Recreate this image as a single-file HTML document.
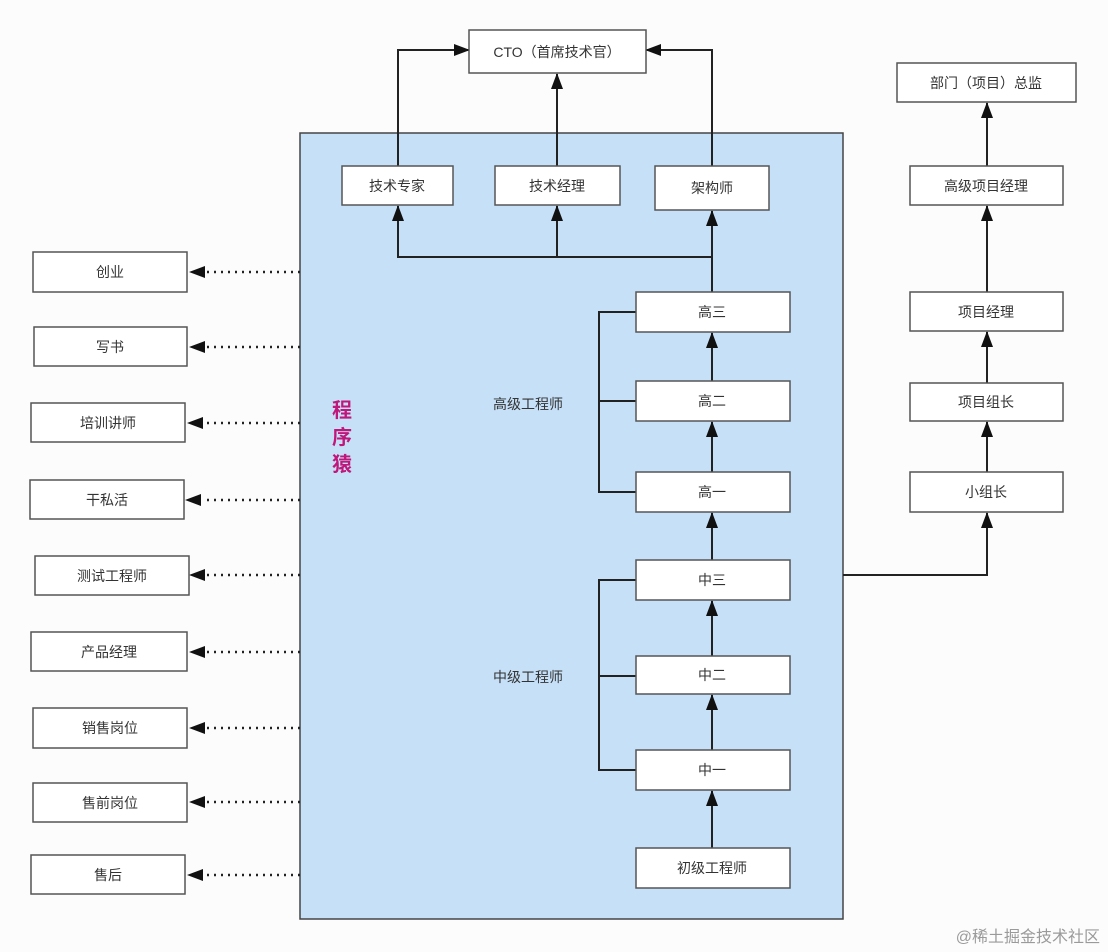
<!DOCTYPE html>
<html><head><meta charset="utf-8"><style>
html,body{margin:0;padding:0;background:#fcfcfc;}
svg{display:block;}
text{font-family:"Liberation Sans","Noto Sans CJK SC",sans-serif;fill:#333;}
</style></head><body>
<svg width="1108" height="952" viewBox="0 0 1108 952" xmlns="http://www.w3.org/2000/svg">
<defs>
<marker id="a" markerWidth="10" markerHeight="10" refX="9" refY="5" orient="auto" markerUnits="userSpaceOnUse">
<path d="M0,0 L10,5 L0,10 z" fill="#111"/></marker>
<marker id="b" markerWidth="16" markerHeight="12" refX="15" refY="6" orient="auto" markerUnits="userSpaceOnUse">
<path d="M0,0 L16,6 L0,12 z" fill="#111"/></marker>
</defs>
<rect x="300" y="133" width="543" height="786" fill="#c6e0f8" stroke="#444" stroke-width="1.5"/>
<g stroke="#222" stroke-width="2" fill="none">
<!-- to CTO -->
<path d="M398,166 V50 H469" marker-end="url(#b)"/>
<path d="M712,166 V50 H646" marker-end="url(#b)"/>
<path d="M557,166 V74" marker-end="url(#b)"/>
<!-- bottom of top row -->
<path d="M712,257 H398 V206" marker-end="url(#b)"/>
<path d="M557,257 V206" marker-end="url(#b)"/>
<path d="M712,292 V211" marker-end="url(#b)"/>
<!-- chain -->
<path d="M712,381 V333" marker-end="url(#b)"/>
<path d="M712,472 V422" marker-end="url(#b)"/>
<path d="M712,560 V513" marker-end="url(#b)"/>
<path d="M712,656 V601" marker-end="url(#b)"/>
<path d="M712,750 V695" marker-end="url(#b)"/>
<path d="M712,848 V791" marker-end="url(#b)"/>
<!-- brackets -->
<path d="M636,312 H599 V492 H636 M599,401 H636"/>
<path d="M636,580 H599 V770 H636 M599,676 H636"/>
<!-- right column -->
<path d="M843,575 H987 V513" marker-end="url(#b)"/>
<path d="M987,472 V422" marker-end="url(#b)"/>
<path d="M987,383 V332" marker-end="url(#b)"/>
<path d="M987,292 V206" marker-end="url(#b)"/>
<path d="M987,166 V103" marker-end="url(#b)"/>
</g>
<!-- dotted -->
<g stroke="#222" stroke-width="2.5" stroke-dasharray="2,5" fill="none">
<path d="M300,272 H205"/><path d="M300,347 H205"/><path d="M300,423 H205"/>
<path d="M300,500 H205"/><path d="M300,575 H205"/><path d="M300,652 H205"/>
<path d="M300,728 H205"/><path d="M300,802 H205"/><path d="M300,875 H205"/>
</g>
<g fill="#111">
<path d="M189,272 l16,-6 v12z"/><path d="M189,347 l16,-6 v12z"/><path d="M187,423 l16,-6 v12z"/>
<path d="M185,500 l16,-6 v12z"/><path d="M189,575 l16,-6 v12z"/><path d="M189,652 l16,-6 v12z"/>
<path d="M189,728 l16,-6 v12z"/><path d="M189,802 l16,-6 v12z"/><path d="M187,875 l16,-6 v12z"/>
</g>
<g fill="#fff" stroke="#555" stroke-width="1.5">
<rect x="469" y="30" width="177" height="43"/>
<rect x="342" y="166" width="111" height="39"/>
<rect x="495" y="166" width="125" height="39"/>
<rect x="655" y="166" width="114" height="44"/>
<rect x="636" y="292" width="154" height="40"/>
<rect x="636" y="381" width="154" height="40"/>
<rect x="636" y="472" width="154" height="40"/>
<rect x="636" y="560" width="154" height="40"/>
<rect x="636" y="656" width="154" height="38"/>
<rect x="636" y="750" width="154" height="40"/>
<rect x="636" y="848" width="154" height="40"/>
<rect x="897" y="63" width="179" height="39"/>
<rect x="910" y="166" width="153" height="39"/>
<rect x="910" y="292" width="153" height="39"/>
<rect x="910" y="383" width="153" height="38"/>
<rect x="910" y="472" width="153" height="40"/>
<rect x="33" y="252" width="154" height="40"/>
<rect x="34" y="327" width="153" height="39"/>
<rect x="31" y="403" width="154" height="39"/>
<rect x="30" y="480" width="154" height="39"/>
<rect x="35" y="556" width="154" height="39"/>
<rect x="31" y="632" width="156" height="39"/>
<rect x="33" y="708" width="154" height="40"/>
<rect x="33" y="783" width="154" height="39"/>
<rect x="31" y="855" width="154" height="39"/>
</g>
<g font-size="14" text-anchor="middle" dominant-baseline="central">
<text x="557" y="52">CTO（首席技术官）</text>
<text x="397" y="186">技术专家</text>
<text x="557" y="186">技术经理</text>
<text x="712" y="188">架构师</text>
<text x="712" y="312">高三</text>
<text x="712" y="401">高二</text>
<text x="712" y="492">高一</text>
<text x="712" y="580">中三</text>
<text x="712" y="675">中二</text>
<text x="712" y="770">中一</text>
<text x="712" y="868">初级工程师</text>
<text x="986" y="83">部门（项目）总监</text>
<text x="986" y="186">高级项目经理</text>
<text x="986" y="312">项目经理</text>
<text x="986" y="402">项目组长</text>
<text x="986" y="492">小组长</text>
<text x="110" y="272">创业</text>
<text x="110" y="347">写书</text>
<text x="108" y="423">培训讲师</text>
<text x="107" y="500">干私活</text>
<text x="112" y="576">测试工程师</text>
<text x="109" y="652">产品经理</text>
<text x="110" y="728">销售岗位</text>
<text x="110" y="803">售前岗位</text>
<text x="108" y="875">售后</text>
<text x="528" y="404">高级工程师</text>
<text x="528" y="677">中级工程师</text>
</g>
<g font-size="20" font-weight="bold" text-anchor="middle" style="fill:#c0187a">
<text x="342" y="417" style="fill:#c0187a">程</text>
<text x="342" y="444" style="fill:#c0187a">序</text>
<text x="342" y="471" style="fill:#c0187a">猿</text>
</g>
<text x="1100" y="942" font-size="16" text-anchor="end" style="fill:#9a9a9a">@稀土掘金技术社区</text>
</svg>
</body></html>
